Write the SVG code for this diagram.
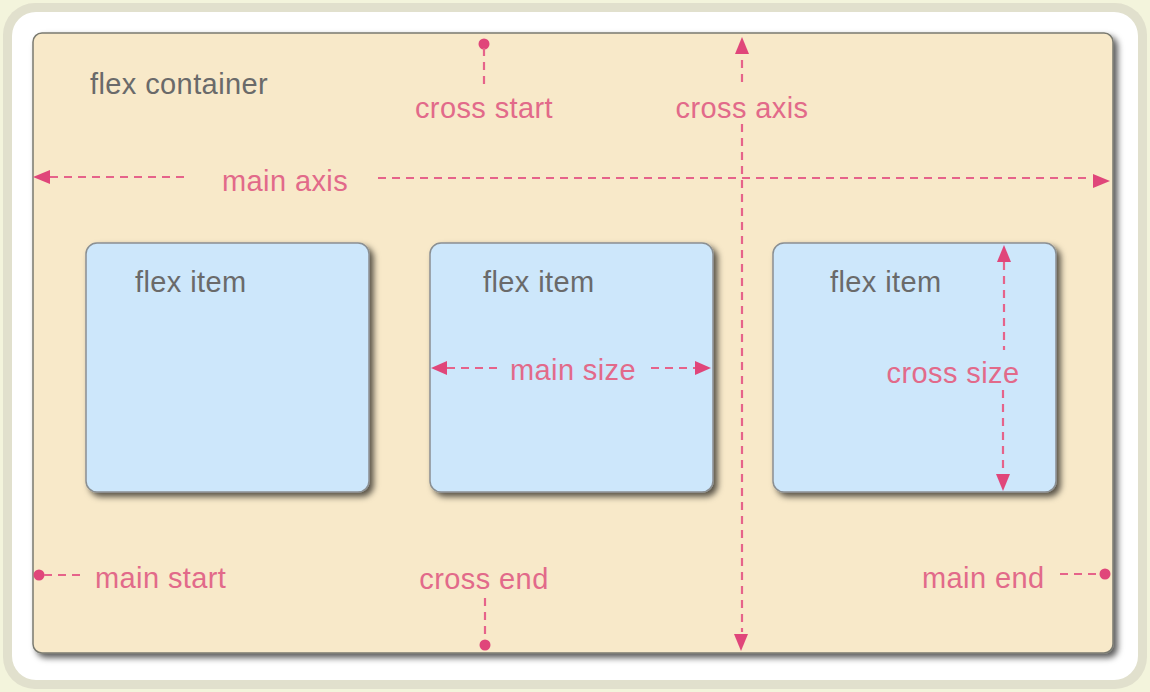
<svg xmlns="http://www.w3.org/2000/svg" width="1150" height="692" viewBox="0 0 1150 692">
<defs>
<filter id="sh" x="-10%" y="-10%" width="120%" height="120%">
<feDropShadow dx="4" dy="4" stdDeviation="3" flood-color="#000" flood-opacity="0.65"/>
</filter>
</defs>
<style>
text{font-family:"Liberation Sans",Arial,sans-serif;font-size:29px;letter-spacing:0.4px}
.g{fill:#6a6a6a}
.p{fill:#e26a8a}
.d{stroke:#e6638a;stroke-width:2.2;stroke-dasharray:8 6;fill:none}
.dot{fill:#e0467a}
.item{fill:#cde7fb;stroke:#8a8f92;stroke-width:1.5}
</style>
<rect x="0" y="0" width="1150" height="692" fill="#f3f4dc"/>
<rect x="3" y="3" width="1144" height="686" rx="32" fill="#e1e0cd"/>
<rect x="12" y="12" width="1126" height="668" rx="24" fill="#ffffff"/>
<g id="container">
<rect x="33" y="33" width="1080" height="620" rx="9" fill="#f8e9c9" stroke="#7a7a70" stroke-width="1.5" filter="url(#sh)"/>
<text class="g" x="90" y="94">flex container</text>
</g>
<g id="item1">
<rect class="item" x="86" y="243" width="283" height="249" rx="11" filter="url(#sh)"/>
<text class="g" x="135" y="292">flex item</text>
</g>
<g id="item2">
<rect class="item" x="430" y="243" width="283" height="249" rx="11" filter="url(#sh)"/>
<text class="g" x="483" y="292">flex item</text>
</g>
<g id="item3">
<rect class="item" x="773" y="243" width="283" height="249" rx="11" filter="url(#sh)"/>
<text class="g" x="830" y="292">flex item</text>
</g>
<g id="labels">
<text class="p" x="484" y="118" text-anchor="middle">cross start</text>
<text class="p" x="742" y="118" text-anchor="middle">cross axis</text>
<text class="p" x="222" y="191">main axis</text>
<text class="p" x="573" y="380" text-anchor="middle">main size</text>
<text class="p" x="953" y="383" text-anchor="middle">cross size</text>
<text class="p" x="95" y="588">main start</text>
<text class="p" x="484" y="589" text-anchor="middle">cross end</text>
<text class="p" x="922" y="588">main end</text>
</g>
<g id="connectors">
<circle class="dot" cx="484" cy="44" r="5.5"/>
<path class="d" d="M484,48 V88"/>
<path class="d" d="M742,60 V86"/>
<path d="M742,37 L735,54 L749,54 z" class="dot"/>
<path class="d" d="M742,124 V632"/>
<path d="M741,651 L734,634 L748,634 z" class="dot"/>
<path d="M33,177 L50,170 L50,184 z" class="dot"/>
<path class="d" d="M50,177 H188"/>
<path class="d" d="M378,178 H1092"/>
<path d="M1110,181 L1093,174 L1093,188 z" class="dot"/>
<path d="M431,368 L447,361 L447,375 z" class="dot"/>
<path class="d" d="M447,368 H500"/>
<path class="d" d="M651,368 H695"/>
<path d="M711,368 L695,361 L695,375 z" class="dot"/>
<path d="M1004,245 L997,262 L1011,262 z" class="dot"/>
<path class="d" d="M1004,262 V350"/>
<path class="d" d="M1003,390 V474"/>
<path d="M1003,491 L996,474 L1010,474 z" class="dot"/>
<circle class="dot" cx="39" cy="575" r="5.5"/>
<path class="d" d="M44,575 H82"/>
<path class="d" d="M485,598 V638"/>
<circle class="dot" cx="485" cy="645" r="5.5"/>
<path class="d" d="M1060,574 H1100"/>
<circle class="dot" cx="1105" cy="574" r="5.5"/>
</g>
</svg>
